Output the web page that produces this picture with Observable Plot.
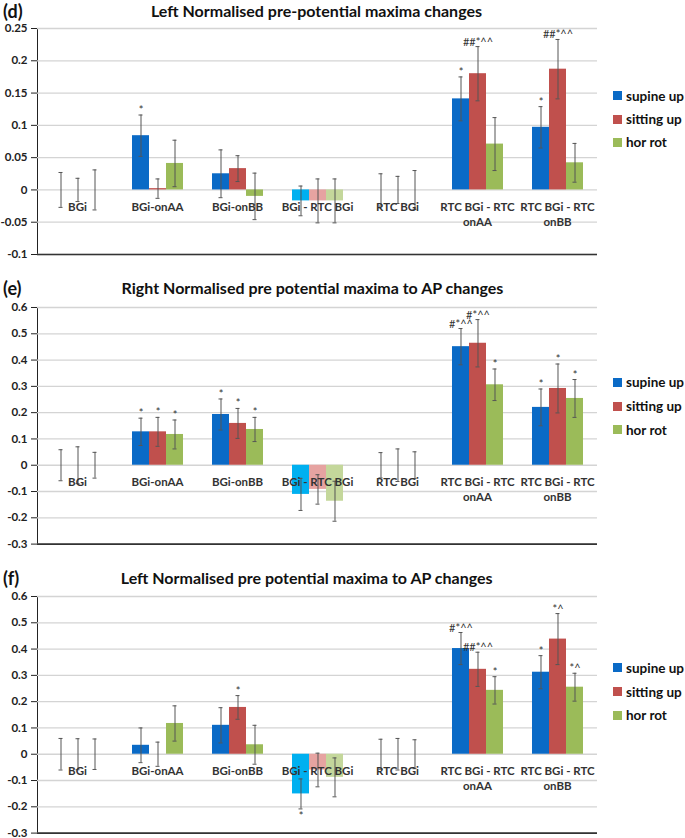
<!DOCTYPE html>
<html><head><meta charset="utf-8">
<script src="https://cdn.jsdelivr.net/npm/d3@7"></script>
<script src="https://cdn.jsdelivr.net/npm/@observablehq/plot@0.6"></script>
<style>
body{margin:0;background:#fff;font-family:Lato,"Open Sans",sans-serif;}
#root{position:relative;width:685px;height:838px;overflow:hidden;background:#fff;}
.ttl{position:absolute;font-weight:bold;font-size:16px;color:#111;white-space:nowrap;transform:translate(-50%,-50%);line-height:1;}
.lbl{position:absolute;left:3px;font-weight:bold;font-size:18px;color:#111;transform:translateY(-50%);line-height:1;}
.leg{position:absolute;left:613px;font-weight:bold;font-size:13.5px;color:#111;display:flex;align-items:center;transform:translateY(-50%);white-space:nowrap;}
.sw{width:9px;height:9px;margin-right:4px;}
.panel{position:absolute;left:0;}
</style></head><body><div id="root"></div>
<script>
// ---- shared categories and series ----
const categories = ["BGi", "BGi-onAA", "BGi-onBB", "BGi - RTC BGi", "RTC BGi", "RTC BGi - RTC\nonAA", "RTC BGi - RTC\nonBB"];
const series = ["supine up", "sitting up", "hor rot"];

// ---- panel (d) ----
const dTitle = "Left Normalised pre-potential maxima changes";
const dSupineUp  = [0, 0.084, 0.025, -0.017, 0, 0.141, 0.097];
const dSittingUp = [0, 0.002, 0.033, -0.017, 0, 0.180, 0.187];
const dHorRot    = [0, 0.041, -0.010, -0.017, 0, 0.071, 0.042];
const dSupineErr  = [0.027, 0.032, 0.037, 0.023, 0.025, 0.034, 0.032];
const dSittingErr = [0.018, 0.015, 0.020, 0.034, 0.021, 0.042, 0.046];
const dHorErr     = [0.031, 0.036, 0.036, 0.034, 0.030, 0.041, 0.030];
const dTicks = [-0.1, -0.05, 0, 0.05, 0.1, 0.15, 0.2, 0.25];
const dNotes = [
  ["BGi-onAA", "supine up", "*", "above"],
  ["RTC BGi - RTC\nonAA", "supine up", "*", "above"],
  ["RTC BGi - RTC\nonAA", "sitting up", "##*^^", "above"],
  ["RTC BGi - RTC\nonBB", "supine up", "*", "above"],
  ["RTC BGi - RTC\nonBB", "sitting up", "##*^^", "above"]
];

// ---- panel (e) ----
const eTitle = "Right Normalised pre potential maxima to AP changes";
const eSupineUp  = [0, 0.127, 0.193, -0.111, 0, 0.451, 0.220];
const eSittingUp = [0, 0.127, 0.159, -0.092, 0, 0.464, 0.292];
const eHorRot    = [0, 0.117, 0.136, -0.137, 0, 0.306, 0.254];
const eSupineErr  = [0.059, 0.052, 0.059, 0.061, 0.048, 0.069, 0.070];
const eSittingErr = [0.070, 0.055, 0.057, 0.056, 0.062, 0.090, 0.093];
const eHorErr     = [0.049, 0.055, 0.046, 0.076, 0.051, 0.060, 0.072];
const eTicks = [-0.3, -0.2, -0.1, 0, 0.1, 0.2, 0.3, 0.4, 0.5, 0.6];
const eNotes = [
  ["BGi-onAA", "supine up", "*", "above"],
  ["BGi-onAA", "sitting up", "*", "above"],
  ["BGi-onAA", "hor rot", "*", "above"],
  ["BGi-onBB", "supine up", "*", "above"],
  ["BGi-onBB", "sitting up", "*", "above"],
  ["BGi-onBB", "hor rot", "*", "above"],
  ["RTC BGi - RTC\nonAA", "supine up", "#*^^", "above"],
  ["RTC BGi - RTC\nonAA", "sitting up", "#*^^", "above"],
  ["RTC BGi - RTC\nonAA", "hor rot", "*", "above"],
  ["RTC BGi - RTC\nonBB", "supine up", "*", "above"],
  ["RTC BGi - RTC\nonBB", "sitting up", "*", "above"],
  ["RTC BGi - RTC\nonBB", "hor rot", "*", "above"]
];

// ---- panel (f) ----
const fTitle = "Left Normalised pre potential maxima to AP changes";
const fSupineUp  = [0, 0.034, 0.110, -0.151, 0, 0.402, 0.312];
const fSittingUp = [0, 0, 0.178, -0.060, 0, 0.323, 0.438];
const fHorRot    = [0, 0.117, 0.036, -0.088, 0, 0.243, 0.255];
const fSupineErr  = [0.060, 0.066, 0.067, 0.057, 0.057, 0.061, 0.063];
const fSittingErr = [0.059, 0.046, 0.045, 0.064, 0.060, 0.065, 0.097];
const fHorErr     = [0.058, 0.067, 0.074, 0.074, 0.055, 0.052, 0.053];
const fTicks = [-0.3, -0.2, -0.1, 0, 0.1, 0.2, 0.3, 0.4, 0.5, 0.6];
const fNotes = [
  ["BGi-onBB", "sitting up", "*", "above"],
  ["BGi - RTC BGi", "supine up", "*", "below"],
  ["RTC BGi - RTC\nonAA", "supine up", "#*^^", "above"],
  ["RTC BGi - RTC\nonAA", "sitting up", "##*^^", "above"],
  ["RTC BGi - RTC\nonAA", "hor rot", "*", "above"],
  ["RTC BGi - RTC\nonBB", "supine up", "*", "above"],
  ["RTC BGi - RTC\nonBB", "sitting up", "*^", "above"],
  ["RTC BGi - RTC\nonBB", "hor rot", "*^", "above"]
];

// ---- styles ----
const colors = ["#0a6ac6", "#c0504d", "#9bbb59"];
const lightColors = ["#00b0f0", "#e6a3a1", "#c4d79b"];
const lightCategory = "BGi - RTC BGi";
const fontFamily = "Lato, 'Open Sans', sans-serif";

function buildRows(valueLists, errLists) {
  const rows = [];
  categories.forEach((cat, i) => {
    series.forEach((ser, j) => {
      const v = valueLists[j][i], e = errLists[j][i];
      rows.push({cat, ser, v, lo: v - e, hi: v + e,
        color: cat === lightCategory ? lightColors[j] : colors[j]});
    });
  });
  return rows;
}

function chart(rows, notes, ticks, height) {
  const key = (c, s) => rows.find(r => r.cat === c && r.ser === s);
  const noteRows = notes.map(([c, s, t, side]) => ({cat: c, ser: s, text: t, side, y: side === "above" ? key(c, s).hi : key(c, s).lo}));
  const yDomain = [ticks[0], ticks[ticks.length - 1]];
  return Plot.plot({
    width: 600, height,
    marginLeft: 35, marginRight: 1.5, marginTop: 10, marginBottom: 5,
    style: {fontFamily, fontSize: "11.5px", fontWeight: "bold", color: "#222", background: "transparent", overflow: "visible"},
    fx: {domain: categories, padding: 0, axis: null, label: null},
    x: {domain: series, paddingInner: 0, paddingOuter: 0.73, axis: null},
    y: {domain: yDomain, ticks, tickFormat: d => String(+d.toFixed(2)), tickSize: 6, tickPadding: 4, line: true, label: null},
    color: {type: "identity"},
    marks: [
      Plot.ruleY(ticks, {stroke: "#d4d4d4", strokeWidth: 1.3}),
      Plot.ruleY([yDomain[0]], {stroke: "#333", strokeWidth: 1.6}),
      Plot.barY(rows, {fx: "cat", x: "ser", y: "v", fill: "color"}),
      Plot.ruleX(rows, {fx: "cat", x: "ser", y1: "lo", y2: "hi", stroke: "#555", strokeWidth: 1}),
      Plot.tickY(rows, {fx: "cat", x: "ser", y: "lo", insetLeft: 6.5, insetRight: 6.5, stroke: "#555", strokeWidth: 1}),
      Plot.tickY(rows, {fx: "cat", x: "ser", y: "hi", insetLeft: 6.5, insetRight: 6.5, stroke: "#555", strokeWidth: 1}),
      Plot.text(categories, {fx: d => d, y: 0, text: d => d, lineAnchor: "top", dy: 10.5, lineHeight: 1.3, fill: "#333", fontSize: 11.5}),
      Plot.text(noteRows.filter(d => d.side === "above"), {fx: "cat", x: "ser", y: "y", text: "text", lineAnchor: "bottom", dy: -1, fontWeight: "normal", fontSize: 11, fill: "#333"}),
      Plot.text(noteRows.filter(d => d.side === "below"), {fx: "cat", x: "ser", y: "y", text: "text", lineAnchor: "top", dy: 3, fontWeight: "normal", fontSize: 11, fill: "#333"})
    ]
  });
}

const root = document.getElementById("root");
const panels = [
  {label: "(d)", title: dTitle, titleX: 316.5, titleY: 11, svgTop: 18.3, height: 241, legendY: [95.7, 119, 142.3],
   rows: buildRows([dSupineUp, dSittingUp, dHorRot], [dSupineErr, dSittingErr, dHorErr]), notes: dNotes, ticks: dTicks},
  {label: "(e)", title: eTitle, titleX: 312.5, titleY: 288.3, svgTop: 296.7, height: 251.6, legendY: [382.3, 406.3, 429.7],
   rows: buildRows([eSupineUp, eSittingUp, eHorRot], [eSupineErr, eSittingErr, eHorErr]), notes: eNotes, ticks: eTicks},
  {label: "(f)", title: fTitle, titleX: 306.7, titleY: 578, svgTop: 585.7, height: 251.6, legendY: [667.7, 691.7, 715],
   rows: buildRows([fSupineUp, fSittingUp, fHorRot], [fSupineErr, fSittingErr, fHorErr]), notes: fNotes, ticks: fTicks}
];

for (const p of panels) {
  const lab = document.createElement("div");
  lab.className = "lbl"; lab.textContent = p.label; lab.style.top = p.titleY + "px";
  root.appendChild(lab);
  const t = document.createElement("div");
  t.className = "ttl"; t.textContent = p.title; t.style.left = p.titleX + "px"; t.style.top = p.titleY + "px";
  root.appendChild(t);
  const wrap = document.createElement("div");
  wrap.className = "panel"; wrap.style.top = p.svgTop + "px";
  wrap.appendChild(chart(p.rows, p.notes, p.ticks, p.height));
  root.appendChild(wrap);
  series.forEach((s, j) => {
    const it = document.createElement("div");
    it.className = "leg"; it.style.top = p.legendY[j] + "px";
    const sw = document.createElement("span"); sw.className = "sw"; sw.style.background = colors[j];
    it.appendChild(sw); it.appendChild(document.createTextNode(s));
    root.appendChild(it);
  });
}
</script></body></html>
